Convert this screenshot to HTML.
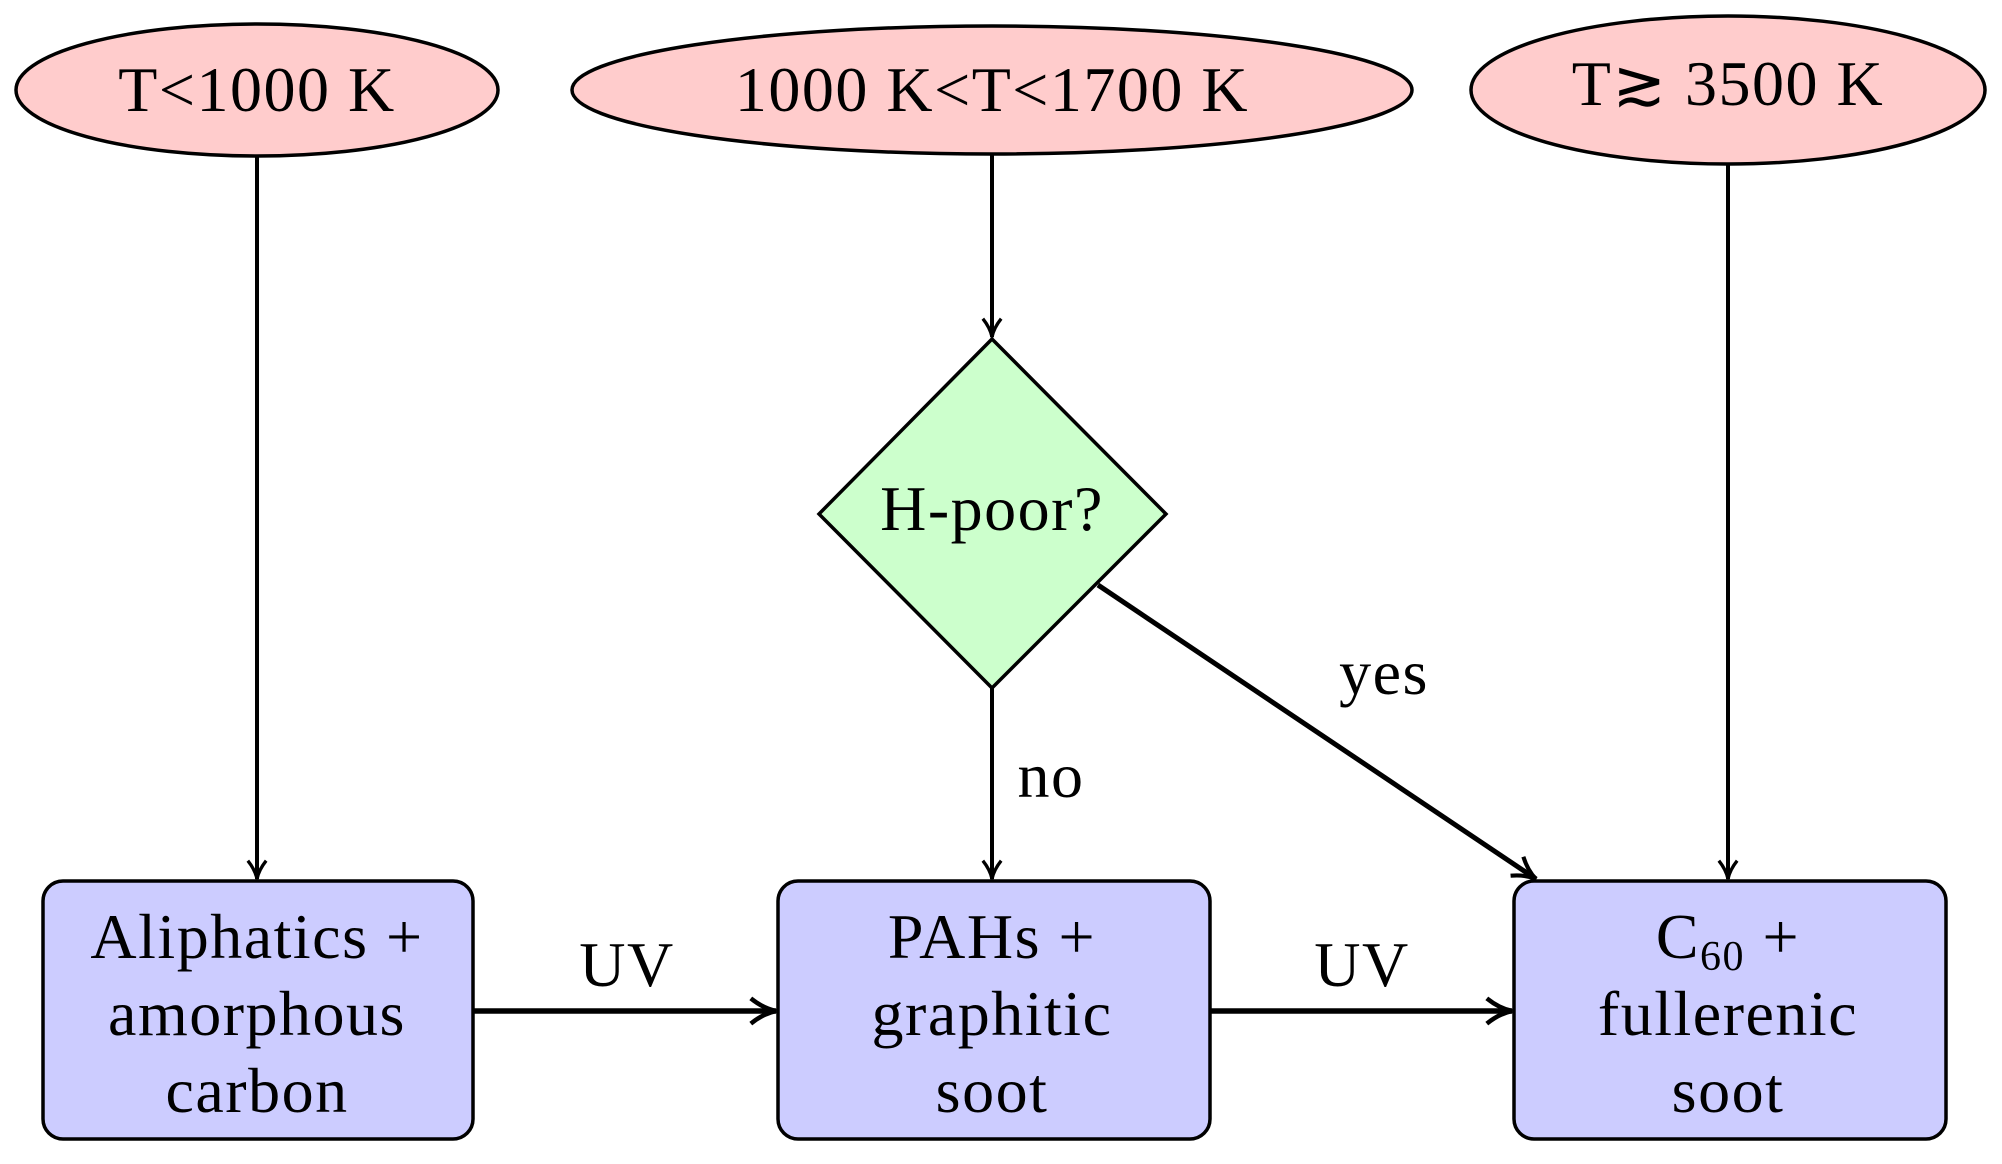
<!DOCTYPE html>
<html><head><meta charset="utf-8"><style>
html,body{margin:0;padding:0;background:#fff}
svg text{font-family:"Liberation Serif",serif;font-size:64px;letter-spacing:1.5px;fill:#000}
</style></head><body>
<svg width="2002" height="1159" viewBox="0 0 2002 1159" xmlns="http://www.w3.org/2000/svg">
<defs>
<marker id="a" viewBox="0 0 12 12" refX="11" refY="6" markerWidth="5.5" markerHeight="5.5" markerUnits="strokeWidth" orient="auto">
<path d="M1,1 Q6,5 11,6 Q6,7 1,11" fill="none" stroke="#000" stroke-width="1.8"/>
</marker>
</defs>
<g stroke="#000" stroke-width="3.5" >
<ellipse cx="257" cy="90" rx="241" ry="66" fill="#ffcccc"/>
<ellipse cx="992" cy="90" rx="420" ry="64" fill="#ffcccc"/>
<ellipse cx="1728" cy="90" rx="257" ry="74" fill="#ffcccc"/>
<polygon points="992,339 1166,514 992,688 819,514" fill="#ccffcc"/>
<rect x="43" y="881" width="430" height="258" rx="20" fill="#ccccff"/>
<rect x="778" y="881" width="432" height="258" rx="20" fill="#ccccff"/>
<rect x="1514" y="881" width="432" height="258" rx="20" fill="#ccccff"/>
</g>
<g stroke="#000" stroke-width="4" fill="none">
<line x1="257" y1="156" x2="257" y2="879" marker-end="url(#a)"/>
<line x1="992" y1="154" x2="992" y2="337" marker-end="url(#a)"/>
<line x1="1728" y1="164" x2="1728" y2="879" marker-end="url(#a)"/>
<line x1="992" y1="688" x2="992" y2="879" marker-end="url(#a)"/>
<line x1="1098" y1="585" x2="1536" y2="879" stroke-width="5" marker-end="url(#a)"/>
<line x1="473" y1="1011" x2="776" y2="1011" stroke-width="5.5" marker-end="url(#a)"/>
<line x1="1210" y1="1011" x2="1512" y2="1011" stroke-width="5.5" marker-end="url(#a)"/>
</g>
<g text-anchor="middle">
<text x="257" y="111">T&lt;1000 K</text>
<text x="992" y="111">1000 K&lt;T&lt;1700 K</text>
<text x="1728" y="105">T≳ 3500 K</text>
<text x="992" y="530">H-poor?</text>
<text x="1384" y="694">yes</text>
<text x="1051" y="797">no</text>
<text x="627" y="986">UV</text>
<text x="1362" y="986">UV</text>
<text x="257" y="958">Aliphatics +</text>
<text x="257" y="1035">amorphous</text>
<text x="257" y="1112">carbon</text>
<text x="992" y="958">PAHs +</text>
<text x="992" y="1035">graphitic</text>
<text x="992" y="1112">soot</text>
<text x="1728" y="958">C<tspan font-size="42" dy="12">60</tspan><tspan dy="-12"> +</tspan></text>
<text x="1728" y="1035">fullerenic</text>
<text x="1728" y="1112">soot</text>
</g>
</svg>
</body></html>
